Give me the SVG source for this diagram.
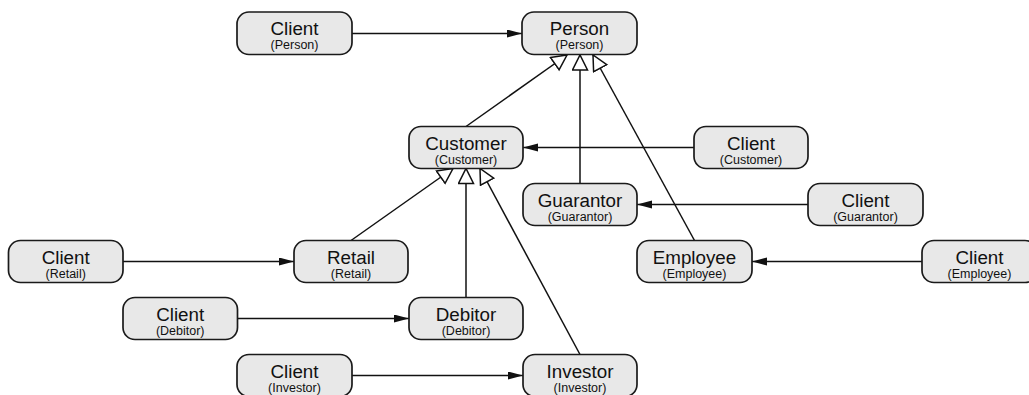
<svg xmlns="http://www.w3.org/2000/svg" width="1029" height="395" viewBox="0 0 1029 395">
<style>
.box{fill:#e8e8e8;stroke:#1a1a1a;stroke-width:1.7}
.t{font-family:"Liberation Sans",Arial,sans-serif;font-size:18.8px;fill:#111;text-anchor:middle}
.s{font-family:"Liberation Sans",Arial,sans-serif;font-size:12.5px;fill:#111;text-anchor:middle}
.c{stroke:#111;stroke-width:1.5;fill:none}
.a{marker-end:url(#arrow)}
.g{marker-end:url(#tri)}
</style>
<defs>
<marker id="arrow" markerUnits="userSpaceOnUse" markerWidth="16" markerHeight="10" refX="15" refY="4" orient="auto">
<path d="M0,0 L15,4 L0,8 z" fill="#111"/>
</marker>
<marker id="tri" markerUnits="userSpaceOnUse" markerWidth="20" markerHeight="20" refX="16" refY="8.5" orient="auto">
<path d="M1,1 L16,8.5 L1,16 z" fill="#fff" stroke="#111" stroke-width="1.5"/>
</marker>
</defs>
<g id="connectors">
<line class="c a" x1="352" y1="33.5" x2="522" y2="33.5"/>
<line class="c g" x1="466" y1="126.5" x2="567" y2="55"/>
<line class="c g" x1="580" y1="183.5" x2="580" y2="55"/>
<line class="c g" x1="694.5" y1="240.5" x2="593" y2="55"/>
<line class="c a" x1="694" y1="147.5" x2="523" y2="147.5"/>
<line class="c a" x1="808" y1="204.5" x2="637" y2="204.5"/>
<line class="c a" x1="922" y1="261.5" x2="752" y2="261.5"/>
<line class="c g" x1="351" y1="240.5" x2="453" y2="168.5"/>
<line class="c g" x1="466" y1="297.5" x2="466" y2="168.5"/>
<line class="c g" x1="580" y1="354.5" x2="480" y2="168.5"/>
<line class="c a" x1="123" y1="261.5" x2="294" y2="261.5"/>
<line class="c a" x1="237" y1="318.5" x2="409" y2="318.5"/>
<line class="c a" x1="352" y1="375.5" x2="523" y2="375.5"/>
</g>
<g id="client_person"><rect class="box" x="237" y="12" width="115" height="42.5" rx="12"/><text class="t" x="294.5" y="35">Client</text><text class="s" x="294.5" y="49">(Person)</text></g>
<g id="person"><rect class="box" x="522" y="12" width="115" height="42.5" rx="12"/><text class="t" x="579.5" y="35">Person</text><text class="s" x="579.5" y="49">(Person)</text></g>
<g id="customer"><rect class="box" x="409" y="126.5" width="114" height="42" rx="12"/><text class="t" x="466" y="149.5">Customer</text><text class="s" x="466" y="163.5">(Customer)</text></g>
<g id="client_customer"><rect class="box" x="694" y="126.5" width="114" height="42" rx="12"/><text class="t" x="751" y="149.5">Client</text><text class="s" x="751" y="163.5">(Customer)</text></g>
<g id="guarantor"><rect class="box" x="523" y="183.5" width="114" height="42" rx="12"/><text class="t" x="580" y="206.5">Guarantor</text><text class="s" x="580" y="220.5">(Guarantor)</text></g>
<g id="client_guarantor"><rect class="box" x="808" y="183.5" width="115" height="42" rx="12"/><text class="t" x="865.5" y="206.5">Client</text><text class="s" x="865.5" y="220.5">(Guarantor)</text></g>
<g id="client_retail"><rect class="box" x="8.5" y="240.5" width="114.5" height="42" rx="12"/><text class="t" x="65.7" y="263.5">Client</text><text class="s" x="65.7" y="277.5">(Retail)</text></g>
<g id="retail"><rect class="box" x="294" y="240.5" width="114" height="42" rx="12"/><text class="t" x="351" y="263.5">Retail</text><text class="s" x="351" y="277.5">(Retail)</text></g>
<g id="employee"><rect class="box" x="637" y="240.5" width="115" height="42" rx="12"/><text class="t" x="694.5" y="263.5">Employee</text><text class="s" x="694.5" y="277.5">(Employee)</text></g>
<g id="client_employee"><rect class="box" x="922" y="240.5" width="115" height="42" rx="12"/><text class="t" x="979.5" y="263.5">Client</text><text class="s" x="979.5" y="277.5">(Employee)</text></g>
<g id="client_debitor"><rect class="box" x="123" y="297.5" width="114.5" height="42" rx="12"/><text class="t" x="180.2" y="320.5">Client</text><text class="s" x="180.2" y="334.5">(Debitor)</text></g>
<g id="debitor"><rect class="box" x="409" y="297.5" width="114" height="42" rx="12"/><text class="t" x="466" y="320.5">Debitor</text><text class="s" x="466" y="334.5">(Debitor)</text></g>
<g id="client_investor"><rect class="box" x="237" y="354.5" width="115" height="42" rx="12"/><text class="t" x="294.5" y="377.5">Client</text><text class="s" x="294.5" y="391.5">(Investor)</text></g>
<g id="investor"><rect class="box" x="523" y="354.5" width="114" height="42" rx="12"/><text class="t" x="580" y="377.5">Investor</text><text class="s" x="580" y="391.5">(Investor)</text></g>
</svg>
